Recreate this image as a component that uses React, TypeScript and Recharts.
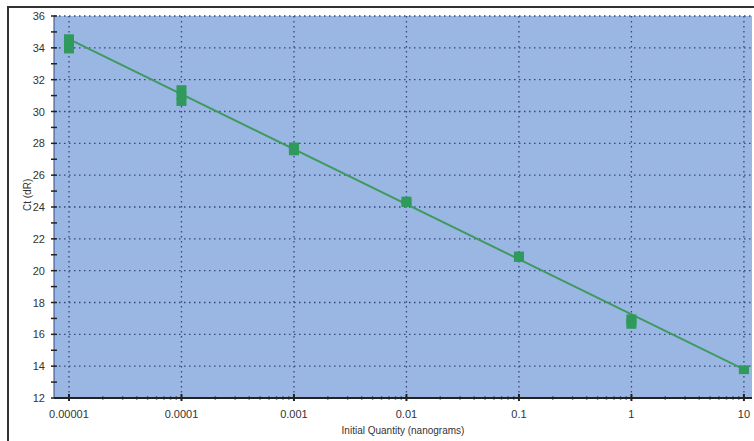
import React from 'react';
import {
  ComposedChart,
  Scatter,
  Line,
  XAxis,
  YAxis,
  CartesianGrid,
} from 'recharts';

// standard curve replicates: initial quantity (ng) vs Ct (dR)
const quantities = [0.00001, 0.0001, 0.001, 0.01, 0.1, 1, 10];
const ctReplicates = [
  [34.6, 34.2, 33.9],
  [31.4, 31.0, 30.6],
  [27.8, 27.6, 27.5],
  [24.4, 24.25],
  [20.95, 20.8],
  [17.0, 16.8, 16.6],
  [13.8, 13.75],
];

// regression line end points
const fitQuantities = [0.00001, 10];
const fitCt = [34.55, 13.8];

const xMajorTicks = [0.00001, 0.0001, 0.001, 0.01, 0.1, 1, 10];
const xMajorLabels = ['0.00001', '0.0001', '0.001', '0.01', '0.1', '1', '10'];
const xMinorMultipliers = [2, 3, 4, 5, 6, 7, 8, 9];
const yTicks = [12, 13, 14, 15, 16, 17, 18, 19, 20, 21, 22, 23, 24, 25, 26, 27, 28, 29, 30, 31, 32, 33, 34, 35, 36];
const yGridValues = [14, 16, 18, 20, 22, 24, 26, 28, 30, 32, 34, 36];

const points = quantities.flatMap((q, i) => ctReplicates[i].map((ct) => ({ q, ct })));
const fitData = fitQuantities.map((q, i) => ({ q, ct: fitCt[i] }));

const xTicks = [
  ...xMajorTicks,
  ...xMajorTicks.slice(0, -1).flatMap((d) => xMinorMultipliers.map((m) => Number((d * m).toPrecision(3)))),
].sort((a, b) => a - b);

const majorIndex = (v: number) => xMajorTicks.findIndex((t) => Math.abs(t - v) / t < 1e-6);

const FONT = '"Liberation Sans", Arial, sans-serif';

const XTick = (props: any) => {
  const { x, y, payload } = props;
  const idx = majorIndex(payload.value);
  if (idx < 0) {
    return <line x1={x} x2={x} y1={y - 1.5} y2={y + 1.5} stroke="#222" strokeWidth={1.5} />;
  }
  return (
    <g>
      <line x1={x} x2={x} y1={y - 4} y2={y + 3} stroke="#222" strokeWidth={2} />
      <text x={x} y={y + 20} textAnchor="middle" fontSize={11} fill="#333" fontFamily={FONT}>
        {xMajorLabels[idx]}
      </text>
    </g>
  );
};

const YTick = (props: any) => {
  const { x, y, payload } = props;
  const major = payload.value % 2 === 0;
  return (
    <g>
      <line x1={x - 3} x2={x + 3} y1={y} y2={y} stroke="#222" strokeWidth={1.5} />
      {major && (
        <text x={x - 9} y={y + 4} textAnchor="end" fontSize={11} fill="#333" fontFamily={FONT}>
          {payload.value}
        </text>
      )}
    </g>
  );
};

const Box = (props: any) => {
  const { cx, cy } = props;
  return <rect x={cx - 5} y={cy - 4} width={10} height={8} fill="#2f9a5c" />;
};

export default function App() {
  return (
    <div style={{ position: 'absolute', left: 0, top: 0, width: 754, height: 441, background: '#fff' }}>
      <div
        style={{
          position: 'absolute',
          left: 7,
          top: 6,
          width: 760,
          height: 450,
          borderLeft: '2px solid #333',
          borderTop: '2px solid #333',
        }}
      />
      <ComposedChart
        width={754}
        height={441}
        margin={{ top: 16, right: 2, bottom: 13, left: 24 }}
        style={{ position: 'absolute', left: 0, top: 0 }}
      >
        <CartesianGrid
          fill="#9ab7e4"
          stroke="#34467e"
          strokeDasharray="1.5 3.5"
          strokeWidth={1.3}
          horizontalValues={yGridValues}
          verticalValues={xMajorTicks}
        />
        <XAxis
          dataKey="q"
          type="number"
          scale="log"
          domain={[7.36e-6, 11.8]}
          allowDataOverflow
          ticks={xTicks}
          interval={0}
          tick={<XTick />}
          tickLine={false}
          tickSize={0}
          tickMargin={0}
          height={30}
          axisLine={{ stroke: '#222', strokeWidth: 2 }}
          label={{
            value: 'Initial Quantity (nanograms)',
            position: 'insideBottom',
            offset: -6,
            fontSize: 10,
            fill: '#333',
            fontFamily: FONT,
          }}
        />
        <YAxis
          dataKey="ct"
          type="number"
          domain={[12, 36]}
          ticks={yTicks}
          interval={0}
          tick={<YTick />}
          tickLine={false}
          tickSize={0}
          tickMargin={0}
          width={30}
          axisLine={{ stroke: '#34467e', strokeWidth: 1 }}
          label={{
            value: 'Ct (dR)',
            angle: -90,
            position: 'insideLeft',
            offset: 3,
            dy: 4,
            fontSize: 10,
            fill: '#333',
            fontFamily: FONT,
          }}
        />
        <Scatter data={points} dataKey="ct" shape={<Box />} isAnimationActive={false} />
        <Line
          data={fitData}
          dataKey="ct"
          type="linear"
          stroke="#3f9a60"
          strokeWidth={2}
          dot={false}
          activeDot={false}
          isAnimationActive={false}
        />
      </ComposedChart>
    </div>
  );
}
